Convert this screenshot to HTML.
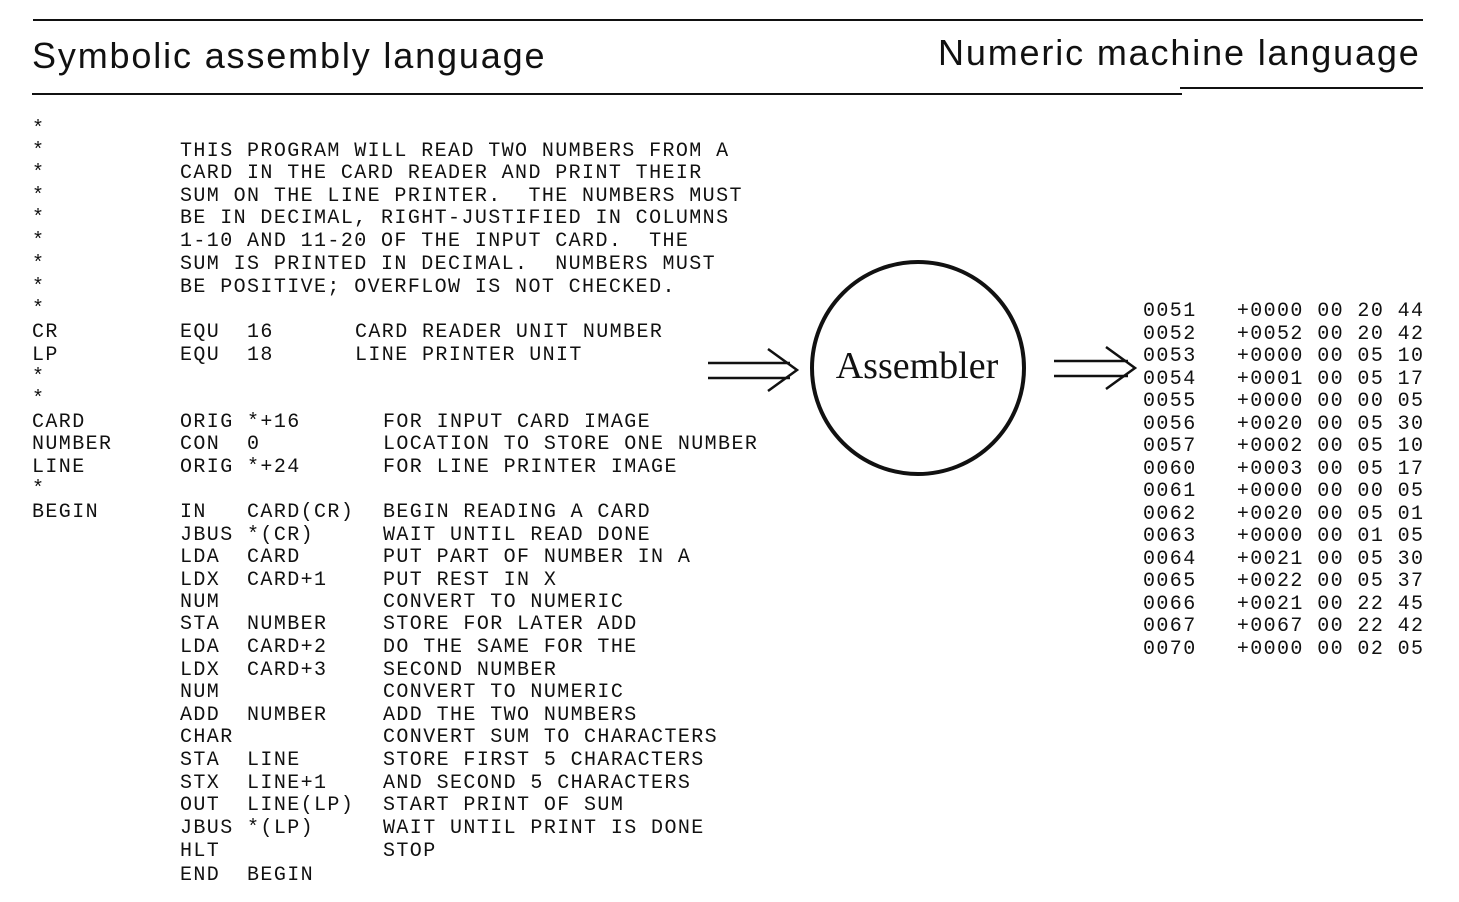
<!DOCTYPE html>
<html><head><meta charset="utf-8"><style>
body{margin:0;width:1459px;height:902px;background:#fff;position:relative;overflow:hidden;font-family:"Liberation Mono",monospace;color:#111}
.r{position:absolute;font-size:20px;letter-spacing:1.4px;line-height:22px;white-space:pre;margin-top:2px}
.h{position:absolute;font-family:"Liberation Sans",sans-serif;font-size:36px;white-space:pre;letter-spacing:1.85px}
.ln{position:absolute;background:#111;height:2px}
</style></head><body>
<div class="ln" style="left:33px;top:19px;width:1390px"></div>
<div class="ln" style="left:32px;top:93px;width:1150px"></div>
<div class="ln" style="left:1180px;top:87px;width:243px"></div>
<div class="h" style="left:32px;top:35px">Symbolic assembly language</div>
<div class="h" style="left:938px;top:32px">Numeric machine language</div>

<svg style="position:absolute;left:0;top:0" width="1459" height="902">
<circle cx="918" cy="368" r="106" fill="none" stroke="#111" stroke-width="4"/>
<g stroke="#111" stroke-width="2.5" fill="none">
<line x1="708" y1="363" x2="790" y2="363"/><line x1="708" y1="378" x2="790" y2="378"/>
<polyline points="768,349 797,370 768,391"/>
<line x1="1054" y1="361" x2="1128" y2="361"/><line x1="1054" y1="376" x2="1128" y2="376"/>
<polyline points="1106,347 1135,368 1106,389"/>
</g>
<text x="917" y="378" text-anchor="middle" font-family="Liberation Serif, serif" font-size="38" fill="#111">Assembler</text>
</svg>

<div class="r" style="left:32px;top:117px">*</div>
<div class="r" style="left:32px;top:139px">*</div><div class="r" style="left:180px;top:139px">THIS PROGRAM WILL READ TWO NUMBERS FROM A</div>
<div class="r" style="left:32px;top:161px">*</div><div class="r" style="left:180px;top:161px">CARD IN THE CARD READER AND PRINT THEIR</div>
<div class="r" style="left:32px;top:184px">*</div><div class="r" style="left:180px;top:184px">SUM ON THE LINE PRINTER.  THE NUMBERS MUST</div>
<div class="r" style="left:32px;top:206px">*</div><div class="r" style="left:180px;top:206px">BE IN DECIMAL, RIGHT-JUSTIFIED IN COLUMNS</div>
<div class="r" style="left:32px;top:229px">*</div><div class="r" style="left:180px;top:229px">1-10 AND 11-20 OF THE INPUT CARD.  THE</div>
<div class="r" style="left:32px;top:252px">*</div><div class="r" style="left:180px;top:252px">SUM IS PRINTED IN DECIMAL.  NUMBERS MUST</div>
<div class="r" style="left:32px;top:275px">*</div><div class="r" style="left:180px;top:275px">BE POSITIVE; OVERFLOW IS NOT CHECKED.</div>
<div class="r" style="left:32px;top:297px">*</div>
<div class="r" style="left:32px;top:320px">CR</div><div class="r" style="left:180px;top:320px">EQU  16</div><div class="r" style="left:355px;top:320px">CARD READER UNIT NUMBER</div>
<div class="r" style="left:32px;top:343px">LP</div><div class="r" style="left:180px;top:343px">EQU  18</div><div class="r" style="left:355px;top:343px">LINE PRINTER UNIT</div>
<div class="r" style="left:32px;top:365px">*</div>
<div class="r" style="left:32px;top:387px">*</div>
<div class="r" style="left:32px;top:410px">CARD</div><div class="r" style="left:180px;top:410px">ORIG *+16</div><div class="r" style="left:383px;top:410px">FOR INPUT CARD IMAGE</div>
<div class="r" style="left:32px;top:432px">NUMBER</div><div class="r" style="left:180px;top:432px">CON  0</div><div class="r" style="left:383px;top:432px">LOCATION TO STORE ONE NUMBER</div>
<div class="r" style="left:32px;top:455px">LINE</div><div class="r" style="left:180px;top:455px">ORIG *+24</div><div class="r" style="left:383px;top:455px">FOR LINE PRINTER IMAGE</div>
<div class="r" style="left:32px;top:477px">*</div>
<div class="r" style="left:32px;top:500px">BEGIN</div><div class="r" style="left:180px;top:500px">IN   CARD(CR)</div><div class="r" style="left:383px;top:500px">BEGIN READING A CARD</div>
<div class="r" style="left:180px;top:523px">JBUS *(CR)</div><div class="r" style="left:383px;top:523px">WAIT UNTIL READ DONE</div>
<div class="r" style="left:180px;top:545px">LDA  CARD</div><div class="r" style="left:383px;top:545px">PUT PART OF NUMBER IN A</div>
<div class="r" style="left:180px;top:568px">LDX  CARD+1</div><div class="r" style="left:383px;top:568px">PUT REST IN X</div>
<div class="r" style="left:180px;top:590px">NUM</div><div class="r" style="left:383px;top:590px">CONVERT TO NUMERIC</div>
<div class="r" style="left:180px;top:612px">STA  NUMBER</div><div class="r" style="left:383px;top:612px">STORE FOR LATER ADD</div>
<div class="r" style="left:180px;top:635px">LDA  CARD+2</div><div class="r" style="left:383px;top:635px">DO THE SAME FOR THE</div>
<div class="r" style="left:180px;top:658px">LDX  CARD+3</div><div class="r" style="left:383px;top:658px">SECOND NUMBER</div>
<div class="r" style="left:180px;top:680px">NUM</div><div class="r" style="left:383px;top:680px">CONVERT TO NUMERIC</div>
<div class="r" style="left:180px;top:703px">ADD  NUMBER</div><div class="r" style="left:383px;top:703px">ADD THE TWO NUMBERS</div>
<div class="r" style="left:180px;top:725px">CHAR</div><div class="r" style="left:383px;top:725px">CONVERT SUM TO CHARACTERS</div>
<div class="r" style="left:180px;top:748px">STA  LINE</div><div class="r" style="left:383px;top:748px">STORE FIRST 5 CHARACTERS</div>
<div class="r" style="left:180px;top:771px">STX  LINE+1</div><div class="r" style="left:383px;top:771px">AND SECOND 5 CHARACTERS</div>
<div class="r" style="left:180px;top:793px">OUT  LINE(LP)</div><div class="r" style="left:383px;top:793px">START PRINT OF SUM</div>
<div class="r" style="left:180px;top:816px">JBUS *(LP)</div><div class="r" style="left:383px;top:816px">WAIT UNTIL PRINT IS DONE</div>
<div class="r" style="left:180px;top:839px">HLT</div><div class="r" style="left:383px;top:839px">STOP</div>
<div class="r" style="left:180px;top:863px">END  BEGIN</div>

<div class="r" style="left:1143px;top:299px;line-height:22.5px">0051   +0000 00 20 44
0052   +0052 00 20 42
0053   +0000 00 05 10
0054   +0001 00 05 17
0055   +0000 00 00 05
0056   +0020 00 05 30
0057   +0002 00 05 10
0060   +0003 00 05 17
0061   +0000 00 00 05
0062   +0020 00 05 01
0063   +0000 00 01 05
0064   +0021 00 05 30
0065   +0022 00 05 37
0066   +0021 00 22 45
0067   +0067 00 22 42
0070   +0000 00 02 05</div>
</body></html>
